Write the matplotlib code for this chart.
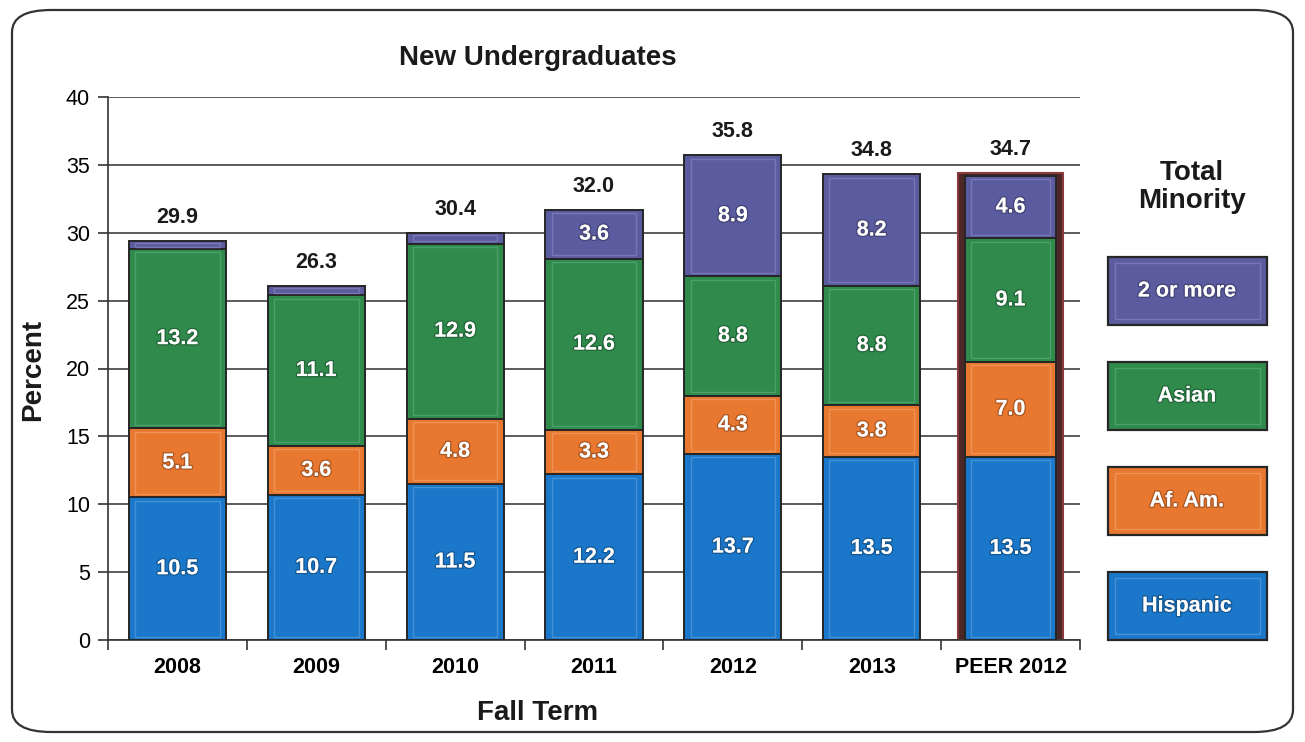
import numpy as np
import matplotlib.pyplot as plt
from matplotlib.patches import FancyBboxPatch, Rectangle
import matplotlib.patheffects as pe

plt.rcParams['font.family'] = ['Liberation Sans', 'DejaVu Sans']

# data
terms = ['2008', '2009', '2010', '2011', '2012', '2013', 'PEER 2012']
hispanic = [10.5, 10.7, 11.5, 12.2, 13.7, 13.5, 13.5]
af_am = [5.1, 3.6, 4.8, 3.3, 4.3, 3.8, 7.0]
asian = [13.2, 11.1, 12.9, 12.6, 8.8, 8.8, 9.1]
two_more = [0.6, 0.7, 0.8, 3.6, 8.9, 8.2, 4.6]
totals = ['29.9', '26.3', '30.4', '32.0', '35.8', '34.8', '34.7']

groups = ['Hispanic', 'Af. Am.', 'Asian', '2 or more']
series = [hispanic, af_am, asian, two_more]
colors = ['#1b77c9', '#e8772f', '#2f8a4c', '#5b5b9f']
light = ['#5fa3e0', '#f4a66e', '#5fb27a', '#8a8ac2']
edge = '#262626'
small = 15.5
big = 20

fig = plt.figure(figsize=(13.05, 7.42), dpi=100)
ax = fig.add_axes([108/1305, 1 - 640/742, 972/1305, 543/742])

x = np.arange(len(terms))
w = 0.70
bottom = np.zeros(len(terms))

# peer bar gets a dark maroon frame behind its segments
peer = len(terms) - 1
stack_top = np.sum(series, axis=0)
ax.bar(x[peer], stack_top[peer] + 0.2, 0.755, color='#4d2626', edgecolor='#8a3a3a',
       linewidth=1.5, zorder=2)

for vals, c, lc, name in zip(series, colors, light, groups):
    vals = np.array(vals)
    widths = np.full(len(terms), w)
    widths[peer] = 0.66
    ax.bar(x, vals, widths, bottom=bottom, color=c, edgecolor=edge, linewidth=1.4, zorder=3)
    # soft bevel highlight inside each segment
    inset = np.minimum(0.25, vals * 0.2)
    ax.bar(x, vals - 2 * inset, widths - 0.09, bottom=bottom + inset, color='none',
           edgecolor=lc, linewidth=1.0, alpha=0.6, zorder=4)
    for i, v in enumerate(vals):
        if v > 2:
            ax.text(x[i], bottom[i] + v / 2, f'{v:.1f}', ha='center', va='center',
                    color='white', fontsize=small, fontweight='bold', zorder=5,
                    path_effects=[pe.withStroke(linewidth=2, foreground=(0, 0, 0, 0.25))])
    bottom = bottom + vals

for i, t in enumerate(totals):
    top = bottom[i] + (0.2 if i == peer else 0)
    ax.annotate(t, (x[i], top), xytext=(0, 17), textcoords='offset points',
                ha='center', va='center', fontsize=small, fontweight='bold', color='#1a1a1a')

ax.set_xlim(-0.5, len(terms) - 0.5)
ax.set_ylim(0, 40)
ax.set_yticks(range(0, 41, 5))
ax.tick_params(axis='y', labelsize=small, length=7, width=1.2, color='#333', pad=6)
ax.set_xticks(x)
ax.set_xticklabels(terms, fontsize=small, fontweight='bold')
ax.tick_params(axis='x', length=0, pad=12)
ax.set_xticks(np.arange(-0.5, len(terms)), minor=True)
ax.tick_params(axis='x', which='minor', length=7, width=1.2, color='#333')
ax.grid(axis='y', color='#404040', linewidth=1.2, zorder=0)
ax.set_axisbelow(True)
for s in ['top', 'right']:
    ax.spines[s].set_visible(False)
for s in ['left', 'bottom']:
    ax.spines[s].set_color('#333')
    ax.spines[s].set_linewidth(1.2)

fig.text(538/1305, 1 - 58/742, 'New Undergraduates', ha='center', va='center',
         fontsize=big, fontweight='bold', color='#1a1a1a')
fig.text(538/1305, 1 - 713/742, 'Fall Term', ha='center', va='center',
         fontsize=big, fontweight='bold', color='#1a1a1a')
fig.text(33/1305, 1 - 370/742, 'Percent', ha='center', va='center', rotation=90,
         fontsize=big, fontweight='bold', color='#1a1a1a')

# legend boxes on the right
fig.text(1192/1305, 1 - 187/742, 'Total\nMinority', ha='center', va='center',
         fontsize=big, fontweight='bold', color='#1a1a1a', linespacing=1.15)
box_tops = [257, 362, 467, 572]
for k, (name, c, lc) in enumerate(zip(groups[::-1], colors[::-1], light[::-1])):
    y0 = 1 - (box_tops[k] + 68) / 742
    fig.patches.append(Rectangle((1108/1305, y0), 159/1305, 68/742, transform=fig.transFigure,
                                 facecolor=c, edgecolor=edge, linewidth=1.6))
    fig.patches.append(Rectangle((1115/1305, y0 + 6/742), 145/1305, 56/742, transform=fig.transFigure,
                                 facecolor='none', edgecolor=lc, linewidth=1.0, alpha=0.6))
    fig.text(1187/1305, y0 + 34/742, name, ha='center', va='center', color='white',
             fontsize=small, fontweight='bold',
             path_effects=[pe.withStroke(linewidth=2, foreground=(0, 0, 0, 0.25))])

# rounded frame round the chart
fig.patches.append(FancyBboxPatch((12/1305, 10/742), 1281/1305, 722/742,
                                  boxstyle='round,pad=0,rounding_size=0.03',
                                  transform=fig.transFigure, facecolor='none',
                                  edgecolor='#333', linewidth=1.6))

fig.savefig('out.png', dpi=100)
